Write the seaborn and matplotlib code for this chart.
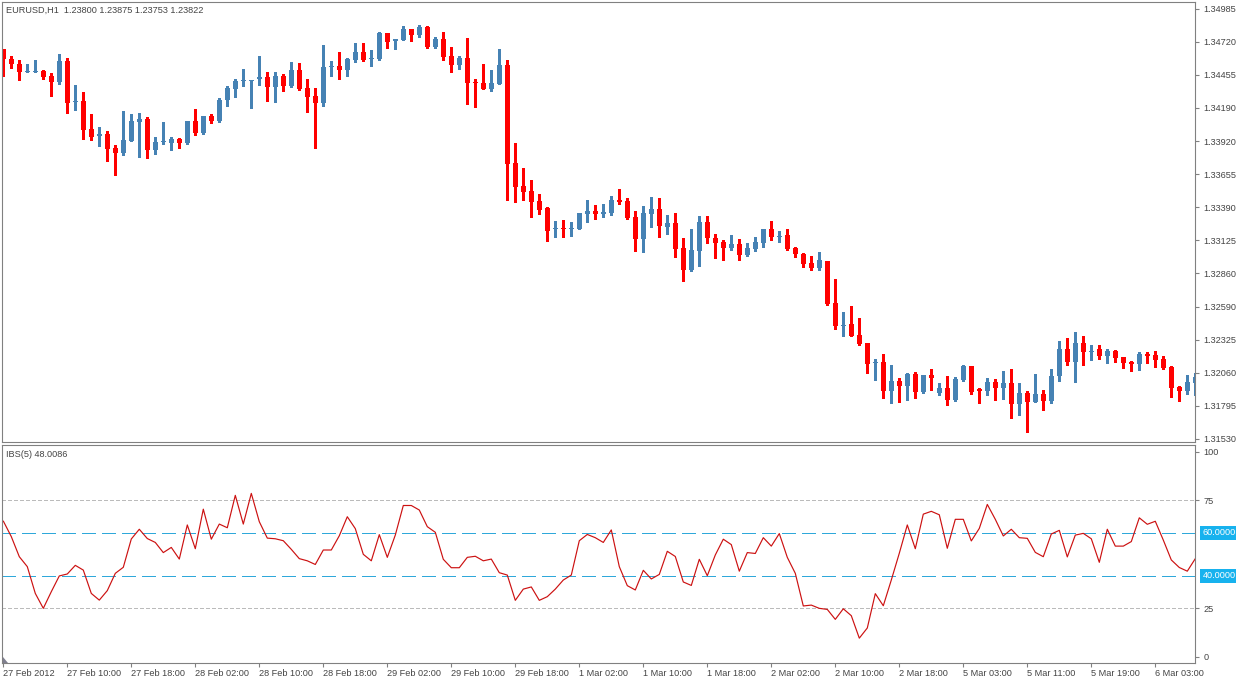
import numpy as np
import pandas as pd
import matplotlib
matplotlib.use("Agg")
import matplotlib.pyplot as plt
import matplotlib.transforms as mtransforms
from matplotlib.patches import Polygon
import seaborn as sns

# ---------------- data ----------------
symbol_title = "EURUSD,H1  1.23800 1.23875 1.23753 1.23822"
ind_title = "IBS(5) 48.0086"

opens = [1.34662,1.34582,1.34542,1.34477,1.34480,1.34488,1.34445,1.34399,1.34566,1.34239,
1.34244,1.34019,1.33960,1.33979,1.33866,1.33829,1.33925,1.34078,1.34100,1.33853,
1.33912,1.33909,1.33939,1.33907,1.34083,1.33989,1.34126,1.34083,1.34252,1.34343,
1.34403,1.34403,1.34419,1.34437,1.34359,1.34445,1.34362,1.34493,1.34349,1.34284,
1.34231,1.34515,1.34525,1.34496,1.34574,1.34638,1.34582,1.34582,1.34791,1.34724,
1.34737,1.34823,1.34777,1.34839,1.34678,1.34743,1.34606,1.34536,1.34590,1.34397,
1.34389,1.34343,1.34381,1.34534,1.33748,1.33561,1.33521,1.33440,1.33381,1.33215,
1.33221,1.33215,1.33218,1.33336,1.33360,1.33338,1.33346,1.33448,1.33440,1.33312,
1.33135,1.33336,1.33376,1.33231,1.33263,1.33062,1.32886,1.33038,1.33272,1.33143,
1.33111,1.33062,1.33095,1.33006,1.33054,1.33103,1.33215,1.33153,1.33167,1.33062,
1.33014,1.32942,1.32902,1.32958,1.32621,1.32438,1.32452,1.32363,1.32299,1.32136,
1.32146,1.31913,1.31994,1.31953,1.32050,1.31903,1.32042,1.31897,1.31937,1.31841,
1.32002,1.32114,1.31929,1.31913,1.31986,1.31937,1.31977,1.31809,1.31897,1.31825,
1.31889,1.31833,1.32034,1.32251,1.32146,1.32299,1.32229,1.32251,1.32195,1.32235,
1.32186,1.32146,1.32130,1.32211,1.32203,1.32170,1.32106,1.31945,1.31913,1.31977]

highs = [1.34665,1.34606,1.34574,1.34539,1.34574,1.34493,1.34467,1.34620,1.34587,1.34373,
1.34314,1.34140,1.34033,1.34005,1.33891,1.34161,1.34140,1.34148,1.34113,1.33955,
1.34075,1.33957,1.33947,1.34086,1.34180,1.34124,1.34140,1.34271,1.34365,1.34421,
1.34501,1.34417,1.34606,1.34475,1.34477,1.34459,1.34555,1.34547,1.34421,1.34351,
1.34694,1.34566,1.34638,1.34592,1.34710,1.34710,1.34654,1.34796,1.34791,1.34743,
1.34845,1.34823,1.34855,1.34847,1.34756,1.34799,1.34678,1.34603,1.34751,1.34421,
1.34542,1.34493,1.34662,1.34574,1.33909,1.33706,1.33612,1.33497,1.33390,1.33280,
1.33288,1.33269,1.33344,1.33448,1.33408,1.33416,1.33481,1.33534,1.33462,1.33360,
1.33400,1.33473,1.33464,1.33328,1.33344,1.33143,1.33215,1.33320,1.33320,1.33175,
1.33127,1.33167,1.33135,1.33103,1.33151,1.33215,1.33280,1.33199,1.33215,1.33070,
1.33022,1.32998,1.33030,1.32958,1.32813,1.32548,1.32596,1.32500,1.32299,1.32170,
1.32211,1.32122,1.32018,1.32058,1.32066,1.32042,1.32090,1.31977,1.32034,1.32026,
1.32122,1.32114,1.31937,1.32018,1.32010,1.32074,1.32090,1.31977,1.31913,1.32050,
1.31921,1.32090,1.32315,1.32339,1.32387,1.32355,1.32283,1.32283,1.32251,1.32243,
1.32186,1.32154,1.32227,1.32227,1.32235,1.32195,1.32114,1.31953,1.32042,1.32058]

lows = [1.34448,1.34512,1.34413,1.34475,1.34477,1.34419,1.34287,1.34378,1.34150,1.34172,
1.33941,1.33931,1.33885,1.33764,1.33649,1.33810,1.33925,1.33796,1.33788,1.33821,
1.33896,1.33853,1.33869,1.33901,1.33968,1.33981,1.34070,1.34078,1.34206,1.34276,
1.34362,1.34190,1.34373,1.34244,1.34236,1.34324,1.34357,1.34335,1.34156,1.33869,
1.34206,1.34445,1.34423,1.34445,1.34560,1.34568,1.34525,1.34576,1.34673,1.34664,
1.34734,1.34729,1.34756,1.34673,1.34673,1.34574,1.34480,1.34504,1.34222,1.34198,
1.34341,1.34327,1.34378,1.33451,1.33435,1.33448,1.33314,1.33334,1.33121,1.33153,
1.33149,1.33161,1.33213,1.33274,1.33293,1.33309,1.33328,1.33416,1.33297,1.33041,
1.33033,1.33229,1.33153,1.33175,1.32990,1.32800,1.32878,1.32916,1.33103,1.32982,
1.32966,1.33046,1.32966,1.32998,1.33038,1.33070,1.33127,1.33111,1.33046,1.32990,
1.32910,1.32886,1.32886,1.32602,1.32411,1.32355,1.32355,1.32287,1.32058,1.32002,
1.31857,1.31817,1.31825,1.31841,1.31857,1.31897,1.31921,1.31881,1.31801,1.31833,
1.31994,1.31889,1.31817,1.31881,1.31841,1.31849,1.31697,1.31718,1.31584,1.31825,
1.31760,1.31817,1.31994,1.32122,1.31986,1.32122,1.32166,1.32170,1.32138,1.32146,
1.32098,1.32074,1.32082,1.32138,1.32106,1.32090,1.31865,1.31833,1.31889,1.31881]

closes = [1.34579,1.34539,1.34475,1.34481,1.34485,1.34440,1.34399,1.34566,1.34231,1.34244,
1.34014,1.33957,1.33979,1.33858,1.33829,1.33928,1.34083,1.34100,1.33850,1.33915,
1.33915,1.33939,1.33909,1.34083,1.33989,1.34124,1.34083,1.34252,1.34349,1.34405,
1.34407,1.34413,1.34437,1.34359,1.34445,1.34367,1.34493,1.34343,1.34279,1.34231,
1.34517,1.34519,1.34496,1.34582,1.34638,1.34574,1.34586,1.34791,1.34721,1.34743,
1.34820,1.34777,1.34837,1.34678,1.34743,1.34598,1.34536,1.34590,1.34391,1.34386,
1.34343,1.34389,1.34534,1.33740,1.33555,1.33515,1.33435,1.33370,1.33202,1.33221,
1.33215,1.33221,1.33344,1.33360,1.33336,1.33352,1.33448,1.33432,1.33301,1.33135,
1.33344,1.33376,1.33239,1.33263,1.33054,1.32886,1.33046,1.33272,1.33143,1.33103,
1.33062,1.33095,1.33006,1.33062,1.33111,1.33215,1.33151,1.33159,1.33054,1.33014,
1.32934,1.32902,1.32966,1.32610,1.32436,1.32444,1.32355,1.32291,1.32130,1.32138,
1.31913,1.31994,1.31953,1.32050,1.31905,1.32042,1.32018,1.31937,1.31841,1.32010,
1.32114,1.31905,1.31913,1.31986,1.31937,1.31977,1.31809,1.31897,1.31825,1.31889,
1.31833,1.32034,1.32251,1.32146,1.32299,1.32227,1.32235,1.32195,1.32235,1.32178,
1.32138,1.32130,1.32211,1.32195,1.32166,1.32098,1.31937,1.31913,1.31986,1.32026]

ibs = [65.4,58.2,48.9,44.3,31.9,25.0,32.7,40.0,40.9,44.9,
42.7,31.9,28.8,33.2,41.2,44.0,57.1,61.6,57.3,55.5,
50.8,53.2,47.8,63.6,52.6,70.9,57.0,64.0,62.3,77.3,
64.0,78.2,65.1,57.5,57.2,56.3,52.3,48.0,47.0,45.3,
52.0,52.0,58.6,67.4,61.9,50.0,47.0,59.1,48.6,58.9,
72.6,72.6,70.5,62.8,60.2,47.7,43.8,43.8,48.6,49.1,
47.0,47.8,41.5,40.4,28.7,33.9,34.9,28.7,30.4,33.9,
38.1,40.4,56.3,59.2,57.7,55.5,61.3,44.3,35.5,33.5,
42.6,38.6,40.7,51.4,49.0,37.2,35.6,47.7,40.1,49.7,
57.0,54.5,42.2,50.8,50.4,57.7,53.8,59.6,48.6,41.2,
26.1,26.5,25.0,24.5,19.9,24.8,21.6,11.2,15.9,31.8,
26.2,38.1,50.5,63.6,52.6,68.6,69.9,68.3,52.8,66.2,
66.2,56.2,62.0,73.1,66.2,58.5,61.6,57.7,57.4,50.9,
48.9,59.4,61.1,48.8,58.9,59.7,57.2,46.3,61.6,53.8,
53.8,55.9,66.9,63.9,65.3,56.6,47.4,43.9,42.2,48.0]

price_ticks = [1.34985,1.34720,1.34455,1.34190,1.33920,1.33655,1.33390,1.33125,
               1.32860,1.32590,1.32325,1.32060,1.31795,1.31530]
time_labels = ["27 Feb 2012","27 Feb 10:00","27 Feb 18:00","28 Feb 02:00","28 Feb 10:00",
               "28 Feb 18:00","29 Feb 02:00","29 Feb 10:00","29 Feb 18:00","1 Mar 02:00",
               "1 Mar 10:00","1 Mar 18:00","2 Mar 02:00","2 Mar 10:00","2 Mar 18:00",
               "5 Mar 03:00","5 Mar 11:00","5 Mar 19:00","6 Mar 03:00"]
level_dash = [60, 40]
level_dot = [75, 25]
ibs_ticks = [0, 25, 75, 100]

# ---------------- style ----------------
sns.set_theme(style="white")
plt.rcParams['font.family'] = ['Liberation Sans', 'DejaVu Sans']
TXT = "#444444"
FRAME = "#808080"
FS = 6.6
BULL = "#4682B4"
BEAR = "#FF0000"

W, H = 1236, 680
fig = plt.figure(figsize=(W / 100, H / 100), dpi=100)
fig.patch.set_facecolor("white")

def frac(x0, y0, x1, y1):
    return [x0 / W, 1 - y1 / H, (x1 - x0) / W, (y1 - y0) / H]

ax1 = fig.add_axes(frac(2, 2, 1195, 442))
ax2 = fig.add_axes(frac(2, 445, 1195, 663))

df = pd.DataFrame({"open": opens, "high": highs, "low": lows, "close": closes, "ibs": ibs})
df["idx"] = np.arange(len(df))
bull = df["close"] >= df["open"]
colors = np.where(bull, BULL, BEAR)

xl = (-0.1625, 148.9625)

# ---- candles ----
ax1.vlines(df["idx"], df["low"], df["high"], colors=colors, linewidth=0.9, antialiased=False)
body_bottom = df[["open", "close"]].min(axis=1)
body_h = (df["close"] - df["open"]).abs().clip(lower=0.00008)
ax1.bar(df["idx"], body_h, bottom=body_bottom, width=0.64, color=colors,
        linewidth=0, antialiased=False)
ax1.set_xlim(*xl)
ax1.set_ylim(1.315035, 1.350405)
ax1.set_xticks([])
ax1.yaxis.tick_right()
ax1.set_yticks(price_ticks)
ax1.set_yticklabels([f"{p:.5f}" for p in price_ticks])
ax1.tick_params(axis="y", which="major", right=True, left=False, length=3, width=0.8,
                color=FRAME, pad=3, labelsize=FS, labelcolor=TXT, direction="out")
ax1.text(0.0037, 0.981, symbol_title, transform=ax1.transAxes, ha="left", va="center",
         fontsize=FS, color=TXT)

# ---- IBS ----
sns.lineplot(data=df, x="idx", y="ibs", ax=ax2, color="#CC1111", linewidth=0.85)
for lv in level_dot:
    ax2.axhline(lv, color="#BBBBBB", linewidth=0.8, linestyle=(0, (3, 2.5)), zorder=0,
                antialiased=False)
for lv in level_dash:
    ax2.axhline(lv, color="#2FA8DA", linewidth=0.8, linestyle=(0, (12.5, 5.5)), zorder=0,
                antialiased=False)
ax2.set_xlim(*xl)
ax2.set_ylim(-0.3, 100.6)
ax2.set_xlabel("")
ax2.set_ylabel("")
ax2.yaxis.tick_right()
tick_pos = {0: 2.6, 25: 25, 75: 75, 100: 97.5}
ax2.set_yticks([tick_pos[t] for t in ibs_ticks])
ax2.set_yticklabels([str(t) for t in ibs_ticks])
ax2.tick_params(axis="y", right=True, left=False, length=3, width=0.8, color=FRAME,
                pad=3, labelsize=FS, labelcolor=TXT, direction="out")
ax2.set_xticks(df["idx"].values[::8])
ax2.set_xticklabels(time_labels, ha="left")
ax2.tick_params(axis="x", bottom=True, length=3, width=0.8, color=FRAME, pad=1,
                labelsize=FS, labelcolor=TXT, direction="out")
ax2.text(0.0037, 0.957, ind_title, transform=ax2.transAxes, ha="left", va="center",
         fontsize=FS, color=TXT)

blend = mtransforms.blended_transform_factory(ax2.transAxes, ax2.transData)
for lv in level_dash:
    tr = mtransforms.offset_copy(blend, fig=fig, x=7.5, y=0, units="dots")
    ax2.text(1.0, lv, f"{lv:.4f}", transform=tr, ha="left", va="center",
             fontsize=FS, color="white", clip_on=False,
             bbox=dict(boxstyle="square,pad=0.25", facecolor="#17B2EE", edgecolor="none"))

for ax in (ax1, ax2):
    ax.set_facecolor("white")
    ax.grid(False)
    for s in ax.spines.values():
        s.set_visible(True)
        s.set_color(FRAME)
        s.set_linewidth(0.8)

# small shift marker at bottom-left
tri = Polygon([[3 / W, 1 - 657 / H], [3 / W, 1 - 663 / H], [8 / W, 1 - 663 / H]],
              closed=True, transform=fig.transFigure, facecolor="#7F7F8F", edgecolor="none")
fig.patches.append(tri)

fig.savefig("out.png", dpi=100, facecolor="white")
